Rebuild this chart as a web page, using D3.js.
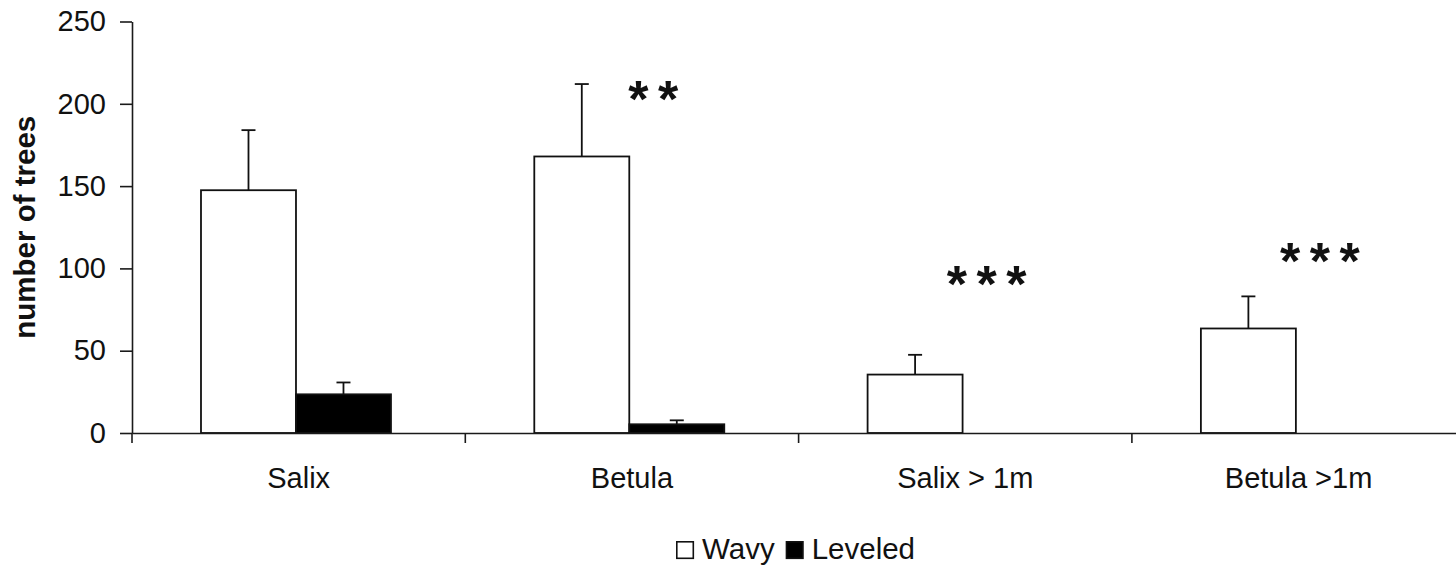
<!DOCTYPE html>
<html>
<head>
<meta charset="utf-8">
<script src="https://cdn.jsdelivr.net/npm/d3@7"></script>
<style>
  html, body { margin: 0; padding: 0; background: #fff; }
  svg { display: block; font-family: "Liberation Sans", Arial, sans-serif; }
</style>
</head>
<body>
<svg id="chart" width="1456" height="568"></svg>
<script>
// ---- data ----
const categories = ["Salix", "Betula", "Salix > 1m", "Betula >1m"];
const series = ["Wavy", "Leveled"];
const wavyValues = [147.5, 168, 35.5, 63.5];
const wavyErrors = [36.5, 44, 12, 19.5];
const leveledValues = [23.5, 5.3, 0, 0];
const leveledErrors = [7.2, 2.4, 0, 0];
const yTicks = [0, 50, 100, 150, 200, 250];
const annotations = [
  { category: "Betula", label: "**", value: 209.5 },
  { category: "Salix > 1m", label: "***", value: 97 },
  { category: "Betula >1m", label: "***", value: 111 }
];
const yTitle = "number of trees";

// ---- layout ----
const svg = d3.select("#chart");
const plotLeft = 132, plotBottom = 433, plotTop = 21.5;
const band = 333.3;
const x = d3.scaleBand().domain(categories).range([plotLeft, plotLeft + band * categories.length]).padding(0);
const bw = x.bandwidth();
const x1 = d3.scaleBand().domain(series).range([bw * 0.207, bw * 0.777]).padding(0);
const y = d3.scaleLinear().domain([0, 250]).range([plotBottom, plotTop]);
const fill = { Wavy: "#ffffff", Leveled: "#000000" };
const axisColor = "#1a1a1a";
const textColor = "#111";
const fs = 29;

const rows = [];
categories.forEach((c, i) => {
  rows.push({ c, s: "Wavy", v: wavyValues[i], e: wavyErrors[i] });
  rows.push({ c, s: "Leveled", v: leveledValues[i], e: leveledErrors[i] });
});

// bars
const bars = rows.filter(d => d.v > 0);
svg.append("g").selectAll("rect").data(bars).join("rect")
  .attr("x", d => x(d.c) + x1(d.s))
  .attr("y", d => y(d.v))
  .attr("width", x1.bandwidth())
  .attr("height", d => y(0) - y(d.v))
  .attr("fill", d => fill[d.s])
  .attr("stroke", "#111")
  .attr("stroke-width", 1.8);

// error bars (upper only)
const eg = svg.append("g").attr("stroke", "#111").attr("stroke-width", 1.8);
bars.forEach(d => {
  const cx = x(d.c) + x1(d.s) + x1.bandwidth() / 2;
  eg.append("line").attr("x1", cx).attr("x2", cx).attr("y1", y(d.v)).attr("y2", y(d.v + d.e));
  eg.append("line").attr("x1", cx - 7).attr("x2", cx + 7).attr("y1", y(d.v + d.e)).attr("y2", y(d.v + d.e));
});

// y axis
const yAxis = svg.append("g").attr("transform", `translate(${plotLeft},0)`)
  .call(d3.axisLeft(y).tickValues(yTicks).tickSize(12).tickSizeOuter(0).tickPadding(14));
yAxis.select(".domain").attr("stroke", axisColor).attr("stroke-width", 1.6);
yAxis.selectAll(".tick line").attr("stroke", axisColor).attr("stroke-width", 1.6);
yAxis.selectAll(".tick text").attr("font-size", fs).attr("fill", textColor)
  .attr("font-family", "'Liberation Sans', Arial, sans-serif");

// x axis
const xAxis = svg.append("g").attr("transform", `translate(0,${plotBottom})`)
  .call(d3.axisBottom(x).tickSize(0).tickSizeOuter(0).tickPadding(34));
xAxis.select(".domain").attr("stroke", axisColor).attr("stroke-width", 1.6);
xAxis.selectAll(".tick text").attr("font-size", fs).attr("fill", textColor)
  .attr("font-family", "'Liberation Sans', Arial, sans-serif");
// category boundary ticks
svg.append("g").selectAll("line").data(categories).join("line")
  .attr("x1", d => x(d)).attr("x2", d => x(d))
  .attr("y1", plotBottom).attr("y2", plotBottom + 10)
  .attr("stroke", axisColor).attr("stroke-width", 1.6);

// y title
svg.append("text")
  .attr("transform", `translate(35,${(plotTop + plotBottom) / 2}) rotate(-90)`)
  .attr("text-anchor", "middle")
  .attr("font-size", 29.5).attr("font-weight", "bold").attr("fill", textColor)
  .text(yTitle);

// annotations (value = vertical centre of the asterisks)
const afs = 52;
svg.append("g").selectAll("text").data(annotations).join("text")
  .attr("x", d => x(d.category) + bw * 0.562 + 5.5)
  .attr("y", d => y(d.value) + afs * 0.55)
  .attr("text-anchor", "middle")
  .attr("font-size", afs)
  .attr("font-weight", "bold")
  .attr("letter-spacing", 9.5)
  .attr("fill", textColor)
  .text(d => d.label);

// legend
const lg = svg.append("g").attr("transform", "translate(676,541)");
let lx = 0;
series.forEach(s => {
  lg.append("rect").attr("x", lx + 0.8).attr("y", 0.8).attr("width", 16.5).attr("height", 16.5)
    .attr("fill", fill[s]).attr("stroke", "#111").attr("stroke-width", 1.6);
  const t = lg.append("text").attr("x", lx + 26).attr("y", 18)
    .attr("font-size", 29.5).attr("fill", textColor).text(s);
  lx += 26 + t.node().getComputedTextLength() + 11;
});
</script>
</body>
</html>
